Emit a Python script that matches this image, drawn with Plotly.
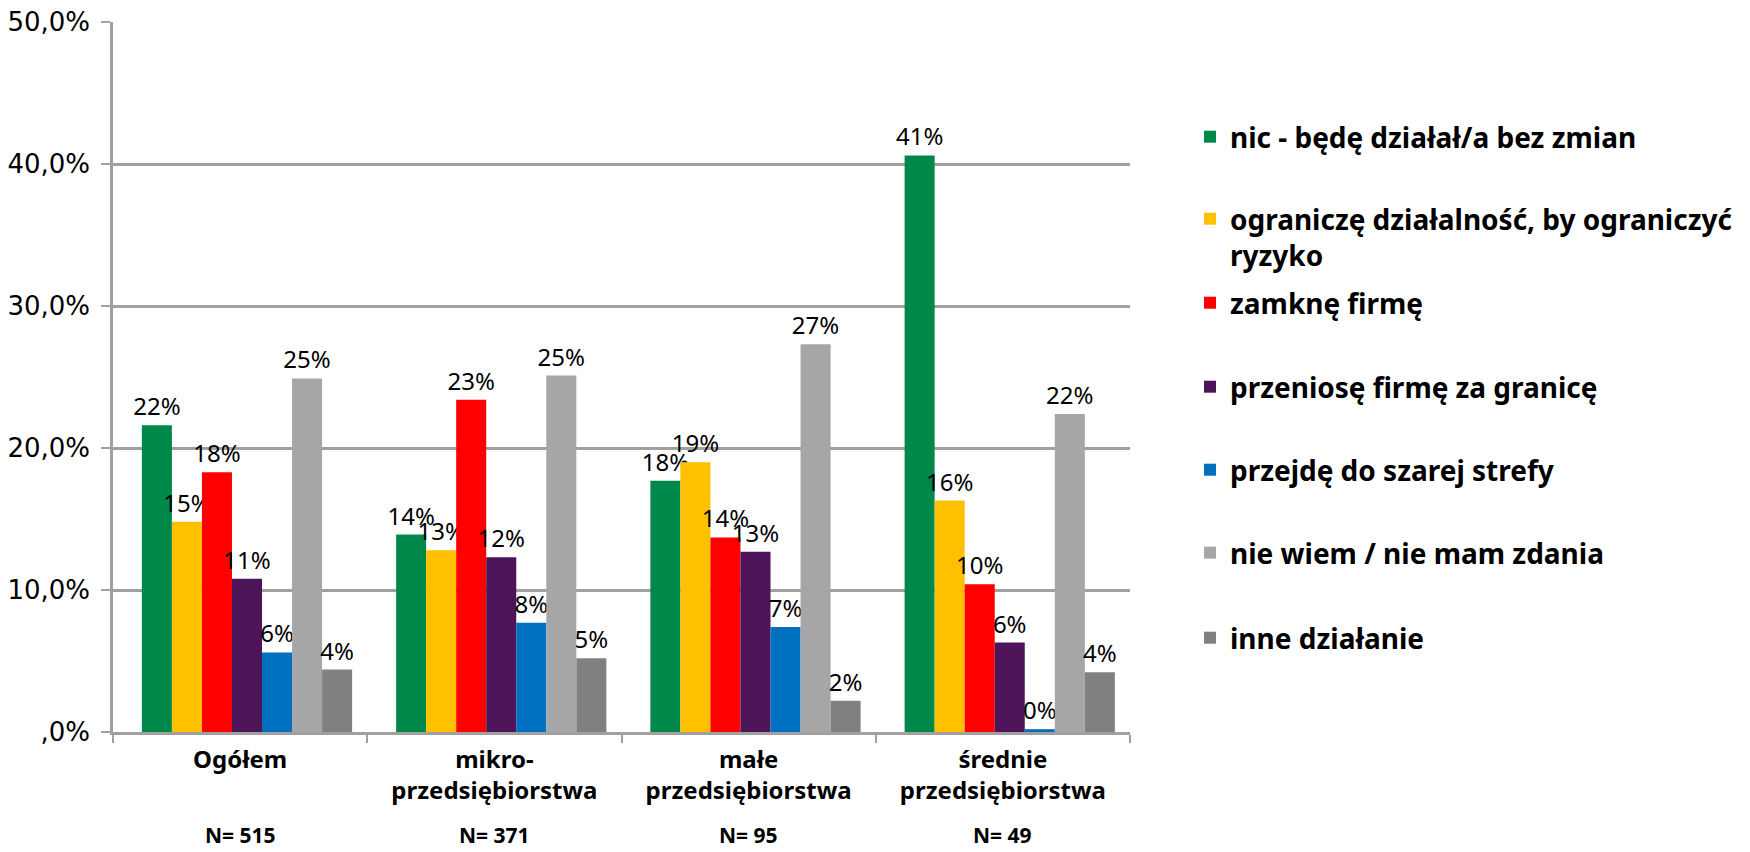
import plotly.graph_objects as go

categories = ["Ogółem", "mikro-<br>przedsiębiorstwa", "małe<br>przedsiębiorstwa", "średnie<br>przedsiębiorstwa"]
n_labels = ["N= 515", "N= 371", "N= 95", "N= 49"]

series_names = [
    "nic - będę działał/a bez zmian",
    "ograniczę działalność, by ograniczyć<br>ryzyko",
    "zamknę firmę",
    "przeniosę firmę za granicę",
    "przejdę do szarej strefy",
    "nie wiem / nie mam zdania",
    "inne działanie",
]
nic = [21.6, 13.9, 17.7, 40.6]
ogranicze = [14.8, 12.8, 19.0, 16.3]
zamkne = [18.3, 23.4, 13.7, 10.4]
przeniose = [10.8, 12.3, 12.7, 6.3]
szara = [5.6, 7.7, 7.4, 0.2]
nie_wiem = [24.9, 25.1, 27.3, 22.4]
inne = [4.4, 5.2, 2.2, 4.2]
series_values = [nic, ogranicze, zamkne, przeniose, szara, nie_wiem, inne]
colors = ["#00884B", "#FFC000", "#FF0000", "#4D1459", "#0070C0", "#A6A6A6", "#808080"]
y_ticks = [0, 10, 20, 30, 40, 50]
y_tick_labels = [",0%", "10,0%", "20,0%", "30,0%", "40,0%", "50,0%"]

W, H = 1750, 852
left, right_edge, top, bottom = 113, 1130, 22, 732

# legend item centres (px from top)
legend_centers = [140, 222, 306, 390, 473, 556, 641]

n_series = len(series_values)
group_frac = 0.827
bar_w = group_frac / n_series
shift = 0.027  # perspective shift of the bar group to the right

fig = go.Figure()
for i, (name, vals, col) in enumerate(zip(series_names, series_values, colors)):
    lg = "legend" if i == 0 else f"legend{i+1}"
    fig.add_trace(go.Bar(
        x=categories, y=vals, name=name,
        width=bar_w, offset=-group_frac / 2 + i * bar_w + shift,
        marker=dict(color=col, line=dict(width=0)),
        text=[f"{round(v)}%" for v in vals],
        textposition="outside",
        constraintext="none",
        textfont=dict(family="Noto Sans", size=24, color="#000000"),
        cliponaxis=False,
        legend=lg,
    ))

layout_legends = {}
for i, c in enumerate(legend_centers):
    key = "legend" if i == 0 else f"legend{i+1}"
    layout_legends[key] = dict(
        x=1190 / W, y=1 - (c - 28) / H, xref="container", yref="container",
        xanchor="left", yanchor="top", valign="top",
        bgcolor="rgba(0,0,0,0)",
        font=dict(family="Noto Sans", size=28, color="#000000", weight="bold"),
    )

fig.update_layout(
    width=W, height=H,
    margin=dict(l=left, r=W - right_edge, t=top, b=H - bottom, autoexpand=False),
    paper_bgcolor="white", plot_bgcolor="white",
    barmode="group", bargap=0.173, bargroupgap=0,
    showlegend=True,
    **layout_legends,
)
fig.update_yaxes(
    range=[0, 50], tickvals=y_ticks, ticktext=y_tick_labels,
    showgrid=True, gridcolor="#A0A0A0", gridwidth=2.5,
    showline=True, linecolor="#A0A0A0", linewidth=2.5,
    ticks="outside", ticklen=9, tickcolor="#A0A0A0", tickwidth=2,
    ticklabelstandoff=6,
    tickfont=dict(family="DejaVu Sans", size=26, color="#000000"),
    zeroline=False,
)
fig.update_xaxes(
    showline=True, linecolor="#A0A0A0", linewidth=2.5,
    ticks="outside", tickson="boundaries", ticklen=8, tickcolor="#A0A0A0", tickwidth=2,
    ticklabelstandoff=4,
    tickfont=dict(family="Noto Sans", size=24, color="#000000", weight="bold"),
)
for cat, lab in zip(categories, n_labels):
    fig.add_annotation(
        x=cat, y=-(835 - bottom) / (bottom - top), xref="x", yref="paper",
        text=f"<b>{lab}</b>", showarrow=False,
        font=dict(family="Noto Sans", size=21, color="#000000"),
        yanchor="middle",
    )

fig.write_html(
    "out.html",
    config={"displayModeBar": False},
    post_script="document.body.style.margin='0';document.body.style.overflow='hidden';",
)
